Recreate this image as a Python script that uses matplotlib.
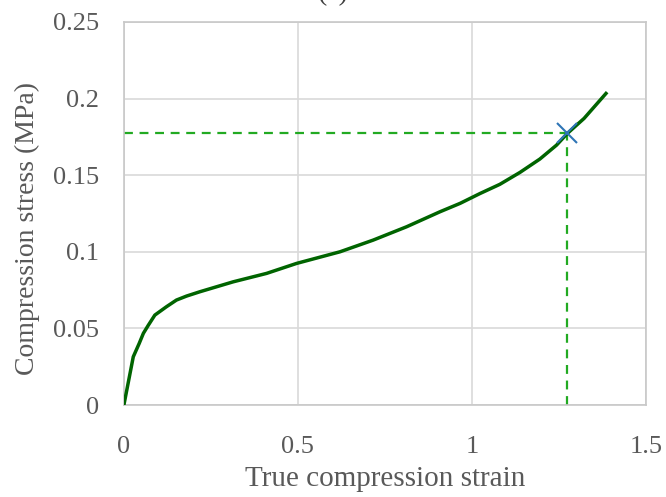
import matplotlib.pyplot as plt

# data
strain = [0.0, 0.027, 0.044, 0.056, 0.07, 0.089, 0.122, 0.151, 0.18, 0.218, 0.314,
          0.41, 0.496, 0.621, 0.716, 0.812, 0.908, 0.966, 1.023, 1.08, 1.138,
          1.195, 1.243, 1.274, 1.322, 1.385]
stress = [0.0, 0.0315, 0.0402, 0.0468, 0.052, 0.0587, 0.0641, 0.0685, 0.0711, 0.0739, 0.0804,
          0.0859, 0.0924, 0.100, 0.1076, 0.1163, 0.1261, 0.1316, 0.138, 0.144, 0.1518,
          0.1605, 0.1696, 0.1772, 0.187, 0.2033]
mark_x = 1.274
mark_y = 0.1772
x_ticks = [0, 0.5, 1, 1.5]
x_labels = ['0', '0.5', '1', '1.5']
y_ticks = [0, 0.05, 0.1, 0.15, 0.2, 0.25]
y_labels = ['0', '0.05', '0.1', '0.15', '0.2', '0.25']

plt.rcParams['font.family'] = ['Liberation Serif', 'DejaVu Serif']
txt = '#595959'
grid = '#D9D9D9'

fig = plt.figure(figsize=(6.66, 4.97), dpi=100)
ax = fig.add_axes([0.186, 0.185, 0.784, 0.771])

ax.plot(strain, stress, color='#006400', lw=2.5, zorder=3)

# dashed guide lines to the marked point
ax.plot([0, mark_x], [mark_y, mark_y], color='#22AA22', lw=1.6, ls=(0, (4, 3)), zorder=2)
ax.plot([mark_x, mark_x], [0, mark_y], color='#22AA22', lw=1.6, ls=(0, (4, 3)), zorder=2)
ax.plot([mark_x], [mark_y], marker='x', ms=14, mew=1.5, color='#2E75B6', zorder=4)

ax.set_xlim(0, 1.5)
ax.set_ylim(0, 0.25)
ax.set_xticks(x_ticks)
ax.set_xticklabels(x_labels)
ax.set_yticks(y_ticks)
ax.set_yticklabels(y_labels)
ax.grid(True, color=grid, lw=1.2)
ax.set_axisbelow(True)
for s in ax.spines.values():
    s.set_color('#C8C8C8')
    s.set_linewidth(1.2)

ax.tick_params(length=0, labelsize=19, labelcolor=txt)
ax.tick_params(axis='x', pad=22)
ax.tick_params(axis='y', pad=18)

ax.set_xlabel('True compression strain', fontsize=21, color=txt, labelpad=6)
ax.set_ylabel('Compression stress (MPa)', fontsize=20, color=txt, labelpad=8)
ax.yaxis.set_label_coords(-0.16, 0.46)

# panel title, mostly cut off at the top edge
fig.text(0.5, 1.0, '(a)', fontsize=20, color='#404040', ha='center', va='baseline')

fig.savefig('out.png', dpi=100)
